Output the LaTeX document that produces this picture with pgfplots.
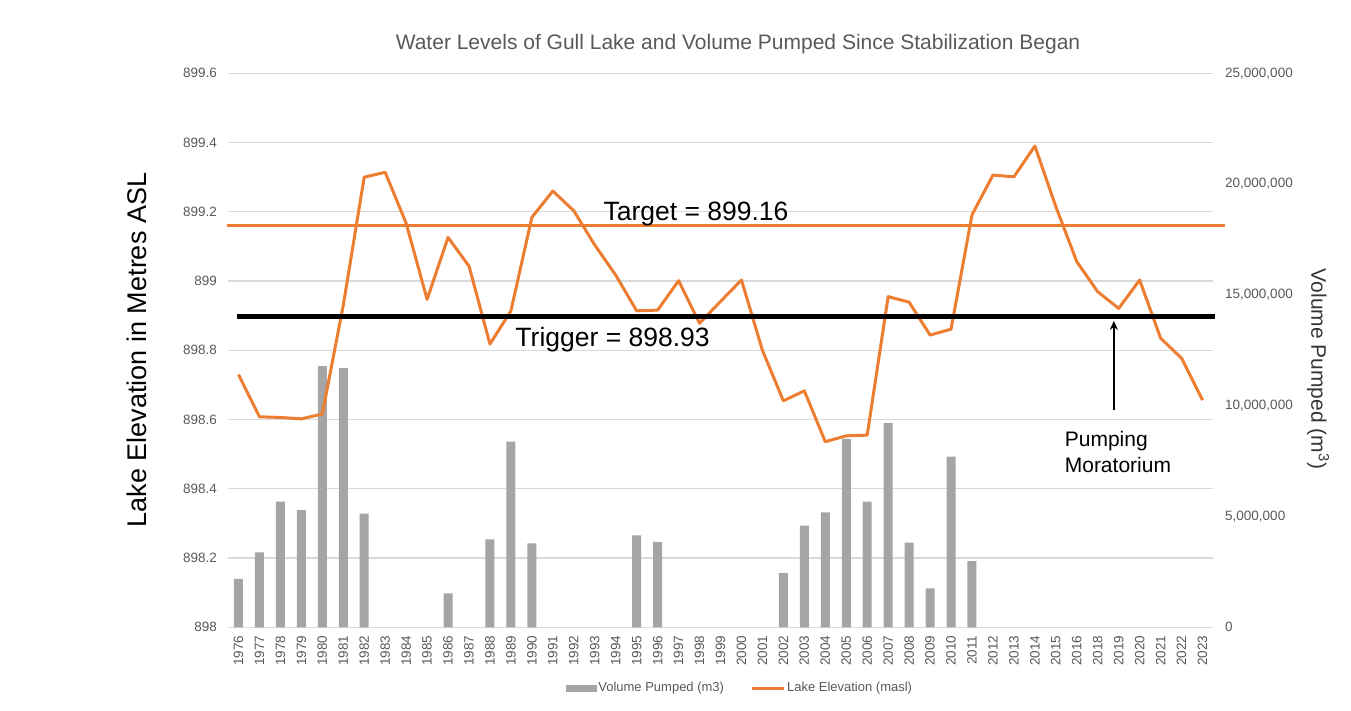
\documentclass[border=0pt]{standalone}
\usepackage{fontspec}
\setmainfont{Liberation Sans}
\usepackage{pgfplots}
\usepackage{pgfplotstable}
\pgfplotsset{compat=1.18}
\usetikzlibrary{arrows.meta}
\definecolor{orng}{RGB}{237,125,49}
\definecolor{barg}{RGB}{165,165,165}
\definecolor{gridg}{RGB}{217,217,217}
\definecolor{tickg}{RGB}{89,89,89}

\pgfplotstableread{
idx vol
0 2180000
1 3380000
2 5670000
3 5290000
4 11790000
5 11700000
6 5130000
10 1530000
12 3970000
13 8380000
14 3790000
19 4150000
20 3850000
26 2440000
27 4590000
28 5190000
29 8500000
30 5670000
31 9230000
32 3820000
33 1760000
34 7700000
35 2990000
}\voltable

\pgfplotstableread{
idx elev
0 898.73
1 898.608
2 898.606
3 898.602
4 898.616
5 898.93
6 899.30
7 899.314
8 899.167
9 898.947
10 899.126
11 899.043
12 898.818
13 898.914
14 899.184
15 899.26
16 899.203
17 899.104
18 899.017
19 898.914
20 898.916
21 899.001
22 898.878
23 898.941
24 899.003
25 898.80
26 898.654
27 898.683
28 898.536
29 898.553
30 898.555
31 898.955
32 898.939
33 898.844
34 898.861
35 899.191
36 899.306
37 899.301
38 899.39
39 899.215
40 899.056
41 898.969
42 898.921
43 899.003
44 898.835
45 898.777
46 898.656
}\elevtable

\pgfplotsset{
  base/.style={
    scale only axis, width=985pt, height=554pt,
    at={(228pt,83.7pt)}, anchor=south west,
    xmin=-0.5, xmax=46.5,
    axis line style={draw=none},
    major tick length=0pt,
    tick label style={font=\fontsize{13.5}{16}\selectfont, text=tickg},
    /pgf/number format/assume math mode=true,
    scaled ticks=false,
  }
}

\begin{document}
\begin{tikzpicture}
\useasboundingbox (0pt,0pt) rectangle (1351pt,711pt);

% axis 1: grid and left ticks
\begin{axis}[base,
  ymin=898, ymax=899.6,
  ytick={898,898.2,898.4,898.6,898.8,899,899.2,899.4,899.6},
  yticklabels={898,898.2,898.4,898.6,898.8,899,899.2,899.4,899.6},
  yticklabel style={anchor=east, inner sep=0pt, xshift=-11pt},
  ymajorgrids, grid style={gridg, line width=1.2pt},
  xtick=\empty,
]
\addplot[draw=none] coordinates {(0,898) (46,898)};
\end{axis}

% axis 2: bars, right ticks, x ticks
\begin{axis}[base,
  axis y line*=right,
  ymin=0, ymax=25000000,
  ytick={0,5000000,10000000,15000000,20000000,25000000},
  yticklabels={0,{5,000,000},{10,000,000},{15,000,000},{20,000,000},{25,000,000}},
  yticklabel style={anchor=west, inner sep=0pt, xshift=12pt},
  xtick={0,...,46},
  xticklabels={1976,1977,1978,1979,1980,1981,1982,1983,1984,1985,1986,1987,1988,1989,1990,1991,1992,1993,1994,1995,1996,1997,1998,1999,2000,2001,2002,2003,2004,2005,2006,2007,2008,2009,2010,2011,2012,2013,2014,2015,2016,2018,2019,2020,2021,2022,2023},
  xticklabel style={rotate=90, anchor=east, inner sep=0pt, xshift=0pt},
  xticklabel shift=8pt,
]
\addplot[ybar, bar width=9pt, fill=barg, draw=none] table[x=idx, y=vol] {\voltable};
\end{axis}

% axis 3: lines, annotations, legend
\begin{axis}[base,
  ymin=898, ymax=899.6,
  xtick=\empty, ytick=\empty,
  clip=false,
  legend columns=2,
  legend style={at={(0.5198,-0.1096)}, anchor=center, draw=none, fill=none,
    font=\fontsize{13}{15}\selectfont, text=tickg,
    /tikz/every even column/.append style={column sep=24pt}},
  legend cell align=left,
]
\addlegendimage{legend image code/.code={\fill[barg] (0pt,-3pt) rectangle (30pt,3pt);}}
\addlegendentry{Volume Pumped (m3)}
\addplot[orng, line width=3pt, line join=round,
  legend image code/.code={\draw[orng, line width=3pt] (0pt,0pt) -- (32pt,0pt);}]
  table[x=idx, y=elev] {\elevtable};
\addlegendentry{Lake Elevation (masl)}
\addplot[orng, line width=3pt, forget plot] coordinates {(-0.55,899.16) (47.07,899.16)};
\addplot[black, line width=4.5pt, forget plot] coordinates {(-0.06,898.897) (46.58,898.897)};
\draw[-{Stealth[length=9pt,width=8pt]}, line width=1.8pt] (axis cs:41.77,898.628) -- (axis cs:41.77,898.885);
\node[anchor=base, font=\fontsize{26.5}{30}\selectfont, inner sep=0pt] at (axis cs:21.83,899.174) {Target = 899.16};
\node[anchor=base, font=\fontsize{26.5}{30}\selectfont, inner sep=0pt] at (axis cs:17.85,898.810) {Trigger = 898.93};
\node[anchor=base west, align=left, font=\fontsize{21}{26}\selectfont, inner sep=0pt] at (axis cs:39.42,898.447) {Pumping\\Moratorium};
\end{axis}

\node[font=\fontsize{21}{24}\selectfont, text=tickg] at (738pt,667pt) {Water Levels of Gull Lake and Volume Pumped Since Stabilization Began};
\node[rotate=90, font=\fontsize{27}{30}\selectfont] at (136.7pt,361pt) {Lake Elevation in Metres ASL};
\node[rotate=-90, font=\fontsize{21}{24}\selectfont, text=tickg!60!black] at (1318pt,342pt) {Volume Pumped (m\textsuperscript{3})};
\end{tikzpicture}
\end{document}
